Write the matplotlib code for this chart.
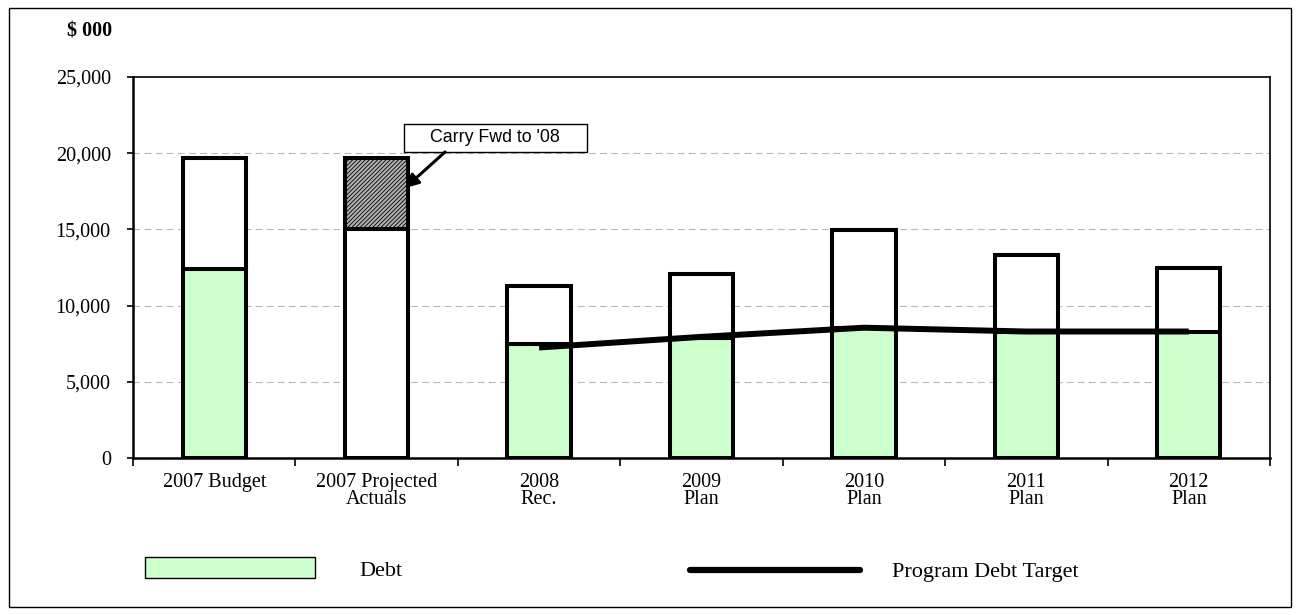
import matplotlib.pyplot as plt
from matplotlib.patches import Rectangle
from matplotlib.lines import Line2D
import numpy as np

plt.rcParams['font.family'] = ['Liberation Serif', 'DejaVu Serif']
plt.rcParams['hatch.linewidth'] = 0.6

categories = ['2007 Budget', '2007 Projected\nActuals', '2008\nRec.', '2009\nPlan',
              '2010\nPlan', '2011\nPlan', '2012\nPlan']
debt = [12400, 0, 7500, 7900, 8500, 8300, 8300]
other = [7300, 15000, 3800, 4200, 6450, 5050, 4200]
carry_fwd = [0, 4700, 0, 0, 0, 0, 0]
target_x = [2, 3, 4, 5, 6]
target = [7250, 7950, 8550, 8300, 8300]

fig = plt.figure(figsize=(12.99, 6.15), dpi=100)
ax = fig.add_axes([133/1299, 1-458/615, (1270-133)/1299, (458-77)/615])

x = np.arange(len(categories))
w = 0.39
lw = 2.9
ax.bar(x, debt, w, color='#ccffcc', edgecolor='black', linewidth=lw, zorder=3)
ax.bar(x, other, w, bottom=debt, color='white', edgecolor='black', linewidth=lw, zorder=3)
bot2 = [d + o for d, o in zip(debt, other)]
ax.bar(x, carry_fwd, w, bottom=bot2, color='#b0b0b0', edgecolor='black',
       hatch='////////', linewidth=lw, zorder=3)
ax.plot(target_x, target, color='black', linewidth=4.3, solid_capstyle='butt', zorder=4)

ax.set_xlim(-0.5, len(categories) - 0.5)
ax.set_ylim(0, 25000)
ax.set_yticks(range(0, 25001, 5000))
ax.set_yticklabels([f'{v:,}' for v in range(0, 25001, 5000)], fontsize=14.5)
ax.set_xticks(x)
ax.set_xticklabels(categories, fontsize=14.5, linespacing=0.85)
ax.set_xticks(np.arange(-0.5, len(categories)), minor=True)
ax.tick_params(axis='x', which='major', length=0, pad=11)
ax.tick_params(axis='x', which='minor', length=6, width=1.2, direction='out')
ax.tick_params(axis='y', length=4, width=1.2, direction='out', pad=12)
for v in range(5000, 25000, 5000):
    ax.axhline(v, color='#b8b8b8', linestyle=(0, (6, 4)), linewidth=0.8, zorder=1)
for s in ax.spines.values():
    s.set_linewidth(1.2)
ax.spines['left'].set_linewidth(1.8)
ax.spines['bottom'].set_linewidth(1.8)

# callout
ax.add_patch(Rectangle((1.169, 20079), 2.296 - 1.169, 21916 - 20079, facecolor='white',
                       edgecolor='black', linewidth=1, zorder=5, clip_on=False))
ax.text(1.73, 21000, "Carry Fwd to '08", fontsize=12.8, family='Liberation Sans',
        ha='center', va='center', zorder=6)
ax.annotate('', xy=(1.175, 17717), xytext=(1.421, 20079),
            arrowprops=dict(arrowstyle='-|>', color='black', lw=2.2, shrinkA=0, shrinkB=0,
                            mutation_scale=20),
            zorder=6)

fig.text(67/1299, 1-32/615, '$ 000', fontsize=14.5, fontweight='bold', va='center')

# legend
fig.patches.append(Rectangle((145/1299, 1-578/615), 170/1299, 21/615, transform=fig.transFigure,
                             facecolor='#ccffcc', edgecolor='black', linewidth=1))
fig.text(359/1299, 1-572/615, 'Debt', fontsize=16, va='center')
fig.lines.append(Line2D([690/1299, 860/1299], [1-570/615, 1-570/615], transform=fig.transFigure,
                        color='black', linewidth=4.5, solid_capstyle='round'))
fig.text(892/1299, 1-572/615, 'Program Debt Target', fontsize=16, va='center')

# outer border
fig.patches.append(Rectangle((9/1299, 1-607/615), 1282/1299, 599/615, transform=fig.transFigure,
                             facecolor='none', edgecolor='black', linewidth=1))

fig.savefig('out.png', dpi=100)
